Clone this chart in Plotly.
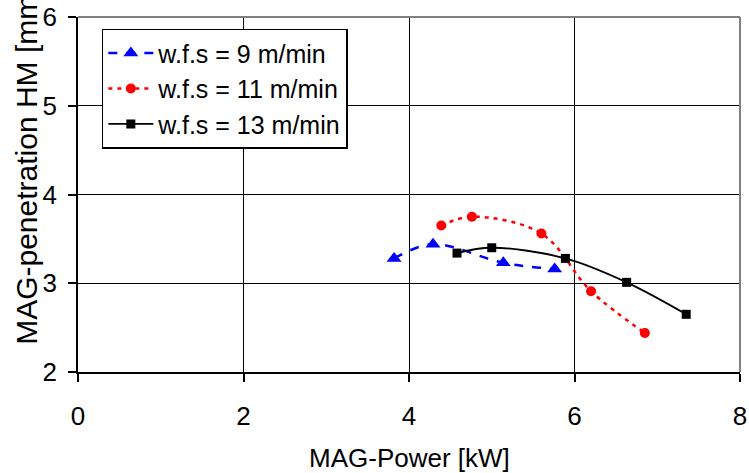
import plotly.graph_objects as go

# Data
power_9 = [3.82, 4.29, 5.14, 5.76]
pen_9 = [3.28, 3.44, 3.23, 3.16]

power_11 = [4.39, 4.76, 5.60, 6.20, 6.85]
pen_11 = [3.65, 3.75, 3.56, 2.91, 2.44]

power_13 = [4.58, 5.00, 5.89, 6.63, 7.35]
pen_13 = [3.34, 3.40, 3.28, 3.01, 2.65]

x_ticks = [0, 2, 4, 6, 8]
y_ticks = [2, 3, 4, 5, 6]

FONT = "Liberation Sans, Arial, sans-serif"
FS = 26

fig = go.Figure()
fig.add_trace(go.Scatter(
    x=power_9, y=pen_9, name="w.f.s = 9 m/min", mode="lines+markers",
    line=dict(color="#0000ff", width=2.5, dash="dash", shape="spline", smoothing=1),
    marker=dict(symbol="triangle-up", size=13, color="#0000ff"),
))
fig.add_trace(go.Scatter(
    x=power_11, y=pen_11, name="w.f.s = 11 m/min", mode="lines+markers",
    line=dict(color="#ff0000", width=2.5, dash="4px,5px", shape="spline", smoothing=1),
    marker=dict(symbol="circle", size=10, color="#ff0000"),
))
fig.add_trace(go.Scatter(
    x=power_13, y=pen_13, name="w.f.s = 13 m/min", mode="lines+markers",
    line=dict(color="#000000", width=1.8, shape="spline", smoothing=1),
    marker=dict(symbol="square", size=9, color="#000000"),
))

axis_common = dict(
    showgrid=True, gridcolor="#000000", gridwidth=1,
    showline=True, linecolor="#000000", linewidth=1.5,
    ticks="outside", ticklen=8, tickcolor="#000000", tickwidth=1.5,
    tickfont=dict(family=FONT, size=FS, color="#000000"),
    zeroline=False, mirror=False, automargin=False,
)

fig.update_layout(
    width=749, height=473,
    margin=dict(l=78, r=9, t=17, b=101, autoexpand=False),
    paper_bgcolor="white", plot_bgcolor="white",
    font=dict(family=FONT, size=FS, color="#000000"),
    showlegend=True,
    legend=dict(
        x=0.036, y=0.967, xanchor="left", yanchor="top",
        bgcolor="white", bordercolor="#000000", borderwidth=1.5,
        font=dict(family=FONT, size=25, color="#000000"),
        tracegroupgap=0, itemsizing="trace", itemwidth=45,
    ),
    xaxis=dict(range=[0, 8], tickvals=x_ticks, ticklabelstandoff=12, **axis_common),
    yaxis=dict(range=[2, 6], tickvals=y_ticks, ticklabelstandoff=6, **axis_common),
    shapes=[
        dict(type="line", xref="paper", yref="paper", x0=0, x1=1, y0=1, y1=1,
             line=dict(color="#808080", width=2)),
        dict(type="line", xref="paper", yref="paper", x0=1, x1=1, y0=0, y1=1,
             line=dict(color="#808080", width=2)),
    ],
    annotations=[
        dict(text="MAG-Power [kW]", xref="paper", yref="paper", x=0.5, y=-0.241,
             xanchor="center", yanchor="middle", showarrow=False,
             font=dict(family=FONT, size=FS, color="#000000")),
        dict(text="MAG-penetration HM [mm]", xref="paper", yref="paper", x=-0.079, y=0.07,
             xanchor="center", yanchor="bottom", textangle=-90, showarrow=False,
             font=dict(family=FONT, size=30, color="#000000")),
    ],
)

fig.write_html(
    "out.html",
    config={"displayModeBar": False},
    post_script="document.body.style.margin='0';document.body.style.overflow='hidden';",
)
